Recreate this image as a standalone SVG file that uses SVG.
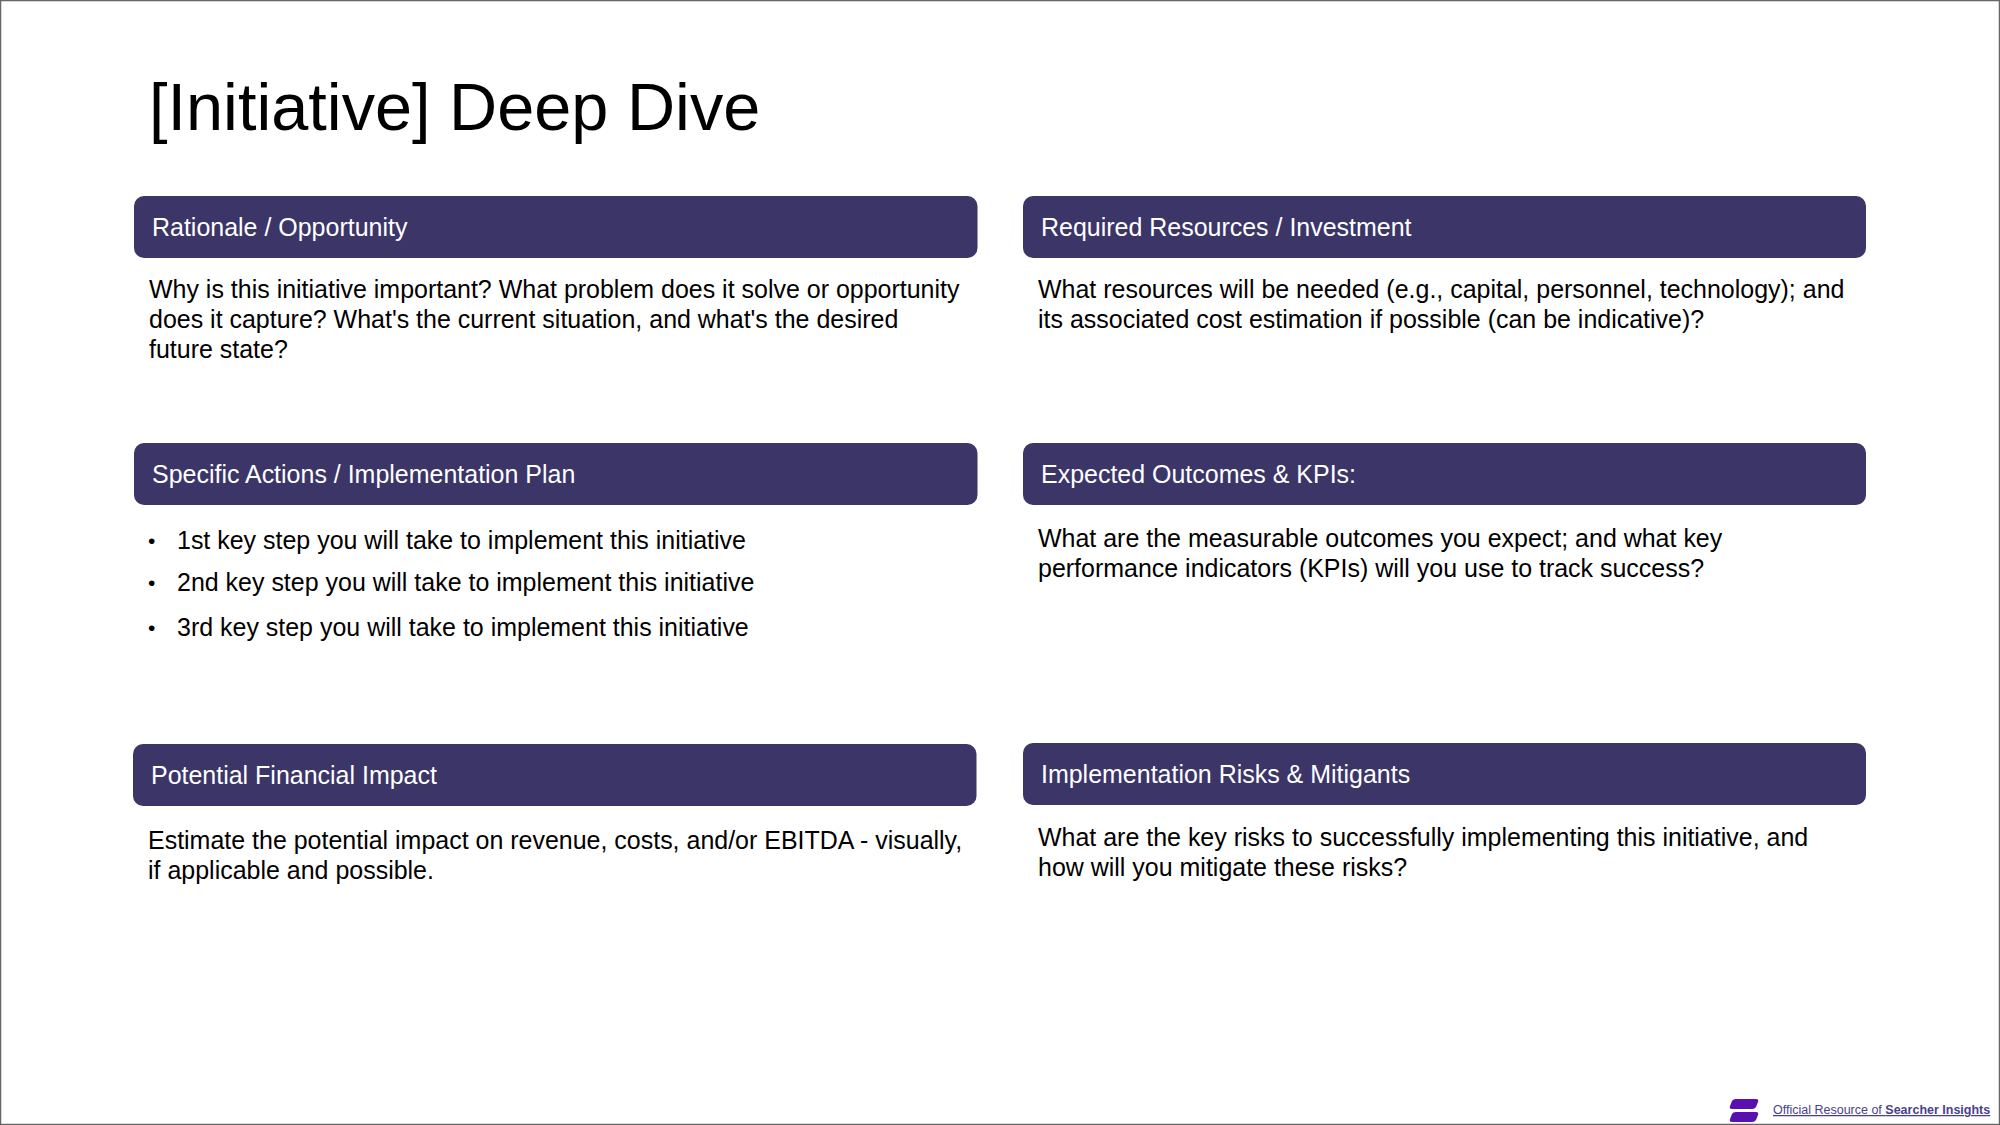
<svg xmlns="http://www.w3.org/2000/svg" width="2000" height="1125" viewBox="0 0 2000 1125">
<style>
text{font-family:"Liberation Sans",Arial,sans-serif}
.bar{fill:#3c3568}
.h{fill:#fff;font-size:24.98px}
.b{fill:#000;font-size:24.98px}
.bu{fill:#000;font-size:21px}
.t{fill:#000;font-size:66.67px}
.f{fill:#4a3f8f;font-size:12.5px;text-decoration:underline}
.fb{font-weight:bold}
.logo{fill:#5a0fb0}
</style>
<rect x="0.5" y="0.5" width="1999" height="1124" fill="#fff" stroke="#666" stroke-width="1.5"/>
<text id="title" class="t" x="149" y="129.500">[Initiative] Deep Dive</text>
<g id="rationale"><rect class="bar" x="134" y="196" width="843.500" height="62" rx="10"/><text class="h" x="152" y="236">Rationale / Opportunity</text>
<text class="b" x="149" y="298">Why is this initiative important? What problem does it solve or opportunity</text>
<text class="b" x="149" y="328">does it capture? What's the current situation, and what's the desired</text>
<text class="b" x="149" y="358">future state?</text></g>
<g id="resources"><rect class="bar" x="1023" y="196" width="843" height="62" rx="10"/><text class="h" x="1041" y="236">Required Resources / Investment</text>
<text class="b" x="1038" y="298">What resources will be needed (e.g., capital, personnel, technology); and</text>
<text class="b" x="1038" y="328">its associated cost estimation if possible (can be indicative)?</text></g>
<g id="actions"><rect class="bar" x="134" y="443" width="843.500" height="62" rx="10"/><text class="h" x="152" y="483">Specific Actions / Implementation Plan</text>
<text class="bu" x="148" y="548">•</text><text class="b" x="177" y="549">1st key step you will take to implement this initiative</text>
<text class="bu" x="148" y="590">•</text><text class="b" x="177" y="591">2nd key step you will take to implement this initiative</text>
<text class="bu" x="148" y="635">•</text><text class="b" x="177" y="636">3rd key step you will take to implement this initiative</text></g>
<g id="outcomes"><rect class="bar" x="1023" y="443" width="843" height="62" rx="10"/><text class="h" x="1041" y="483">Expected Outcomes &amp; KPIs:</text>
<text class="b" x="1038" y="547">What are the measurable outcomes you expect; and what key</text>
<text class="b" x="1038" y="577">performance indicators (KPIs) will you use to track success?</text></g>
<g id="financial"><rect class="bar" x="133" y="744" width="843.500" height="62" rx="10"/><text class="h" x="151" y="784">Potential Financial Impact</text>
<text class="b" x="148" y="849">Estimate the potential impact on revenue, costs, and/or EBITDA - visually,</text>
<text class="b" x="148" y="879">if applicable and possible.</text></g>
<g id="risks"><rect class="bar" x="1023" y="743" width="843" height="62" rx="10"/><text class="h" x="1041" y="783">Implementation Risks &amp; Mitigants</text>
<text class="b" x="1038" y="846">What are the key risks to successfully implementing this initiative, and</text>
<text class="b" x="1038" y="876">how will you mitigate these risks?</text></g>
<g id="footer">
<path class="logo" d="M1736 1099h20q3 0 2 3l-2 5q-1 2-4 2h-20q-3 0-2-3l2-5q1-2 4-2zM1736 1112h20q3 0 2 3l-2 5q-1 2-4 2h-20q-3 0-2-3l2-5q1-2 4-2z"/>
<text class="f" x="1773" y="1114">Official Resource of <tspan class="fb">Searcher Insights</tspan></text>
</g>
</svg>
